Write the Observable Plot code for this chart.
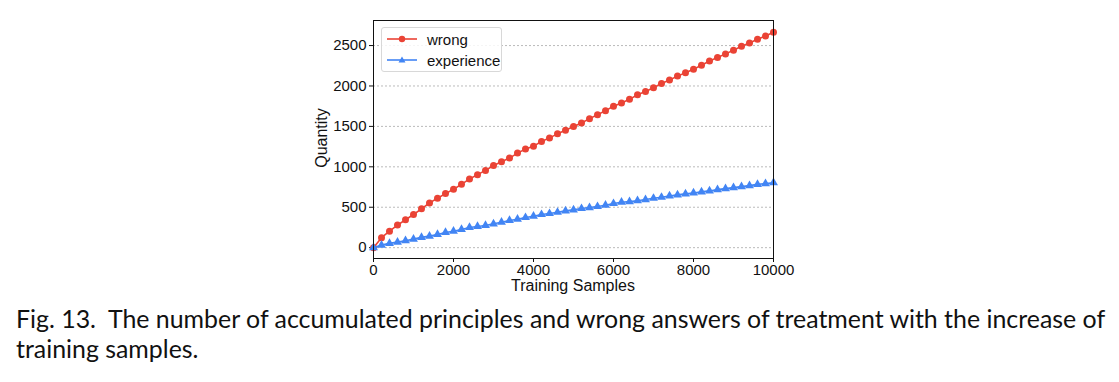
<!DOCTYPE html>
<html>
<head>
<meta charset="utf-8">
<script src="https://cdn.jsdelivr.net/npm/d3@7"></script>
<script src="https://cdn.jsdelivr.net/npm/@observablehq/plot@0.6"></script>
<style>
  html, body { margin: 0; padding: 0; background: #fff; }
  #wrap { position: relative; width: 1119px; }
  #legend {
    position: absolute; left: 381px; top: 27px; width: 121px; height: 45px;
    border: 1px solid #d8d8d8; border-radius: 3px; background: rgba(255,255,255,0.85);
    font-family: "Liberation Sans", Arial, sans-serif; font-size: 15px; color: #111;
    box-sizing: border-box;
  }
  #legend .row { position: absolute; left: 0; height: 20px; display: flex; align-items: center; }
  #legend svg { margin-left: 5px; margin-right: 10px; }
  .axlabel { position: absolute; font-family: "Liberation Sans", Arial, sans-serif; font-size: 16px; color: #111; white-space: nowrap; }
  #ylabel { left: 322px; top: 138px; transform: translate(-50%, -50%) rotate(-90deg); }
  #xlabel { left: 573px; top: 286px; transform: translate(-50%, -50%); }
  #caption {
    font-family: Lato, "Open Sans", sans-serif; font-size: 24.9px; line-height: 30px;
    color: #111; margin: 0; padding: 7px 0 0 16px; width: 1103px; white-space: nowrap;
  }
</style>
</head>
<body>
<div id="wrap">
  <div id="chart"></div>
  <div id="legend"></div>
  <div class="axlabel" id="ylabel"></div>
  <div class="axlabel" id="xlabel"></div>
</div>
<div id="caption">Fig. 13.&nbsp; The number of accumulated principles and wrong answers of treatment with the increase of<br>training samples.</div>
<script>
const samples = d3.range(0, 10001, 200);
const wrong = [0,123,204,279,345,410,480,554,611,669,722,783,850,903,956,1017,1063,
  1108,1170,1219,1256,1313,1358,1408,1453,1498,1543,1596,1645,1695,1749,1789,1835,1892,
  1933,1978,2032,2073,2122,2163,2208,2257,2310,2352,2397,2442,2491,2532,2578,2618,2664];
const experience = [0,32,53,69,86,106,127,143,164,188,204,225,250,262,275,295,315,
  336,352,373,389,410,422,438,455,468,484,496,509,525,546,562,570,581,
  595,611,623,640,653,665,677,690,702,718,730,743,755,767,783,792,804];
const seriesNames = ["wrong", "experience"];
const seriesColors = ["#EA4335", "#4285F4"];
const xTicks = [0, 2000, 4000, 6000, 8000, 10000];
const yTicks = [0, 500, 1000, 1500, 2000, 2500];
const xLabel = "Training Samples";
const yLabel = "Quantity";

const rows = [];
samples.forEach((s, i) => {
  rows.push({x: s, y: wrong[i], series: seriesNames[0]});
  rows.push({x: s, y: experience[i], series: seriesNames[1]});
});
const wrongRows = rows.filter(d => d.series === "wrong");
const expRows = rows.filter(d => d.series === "experience");

const chart = Plot.plot({
  width: 1119,
  height: 296,
  marginLeft: 373,
  marginRight: 346,
  marginTop: 20,
  marginBottom: 38,
  style: {fontFamily: "'Liberation Sans', Arial, sans-serif", fontSize: "15px", color: "#111", background: "#fff"},
  x: {domain: [0, 10000], ticks: xTicks, tickFormat: d => String(d), tickSize: 4, tickPadding: 2, label: null},
  y: {domain: [-134, 2810], ticks: yTicks, tickFormat: d => String(d), tickSize: 4, tickPadding: 3, label: null},
  marks: [
    Plot.ruleY(yTicks, {stroke: "#aaa", strokeDasharray: "2,2", strokeWidth: 0.8}),
    Plot.line(wrongRows, {x: "x", y: "y", stroke: seriesColors[0], strokeWidth: 1.6}),
    Plot.dot(wrongRows, {x: "x", y: "y", fill: seriesColors[0], r: 3.5, symbol: "circle"}),
    Plot.line(expRows, {x: "x", y: "y", stroke: seriesColors[1], strokeWidth: 1.6}),
    Plot.dot(expRows, {x: "x", y: "y", fill: seriesColors[1], r: 3.3, symbol: "triangle"}),
    Plot.frame({stroke: "#111", strokeWidth: 1})
  ]
});
document.getElementById("chart").appendChild(chart);
document.getElementById("xlabel").textContent = xLabel;
document.getElementById("ylabel").textContent = yLabel;

// legend
const legend = document.getElementById("legend");
seriesNames.forEach((name, i) => {
  const row = document.createElement("div");
  row.className = "row";
  row.style.top = (i === 0 ? 1 : 22) + "px";
  const marker = i === 0
    ? `<circle cx="15" cy="5" r="3.2" fill="${seriesColors[i]}"/>`
    : `<path d="M15,1.5 L18.5,7.5 L11.5,7.5 Z" fill="${seriesColors[i]}"/>`;
  row.innerHTML = `<svg width="30" height="10"><line x1="0" x2="30" y1="5" y2="5" stroke="${seriesColors[i]}" stroke-width="1.6"/>${marker}</svg><span>${name}</span>`;
  legend.appendChild(row);
});
</script>
</body>
</html>
